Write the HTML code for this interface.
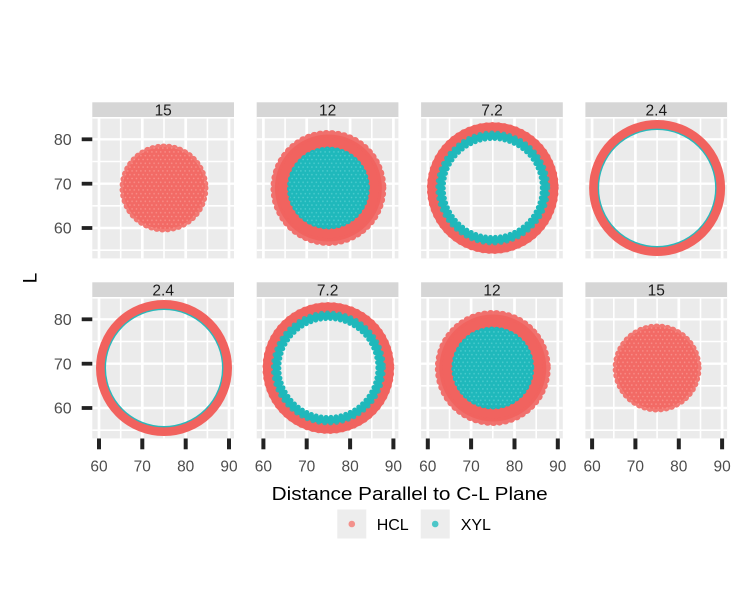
<!DOCTYPE html>
<html><head><meta charset="utf-8"><style>
html,body{margin:0;padding:0;background:#fff;}
svg{display:block;font-family:"Liberation Sans",Arial,sans-serif;}
</style></head><body>
<svg width="750" height="600" viewBox="0 0 750 600" xmlns="http://www.w3.org/2000/svg">
<defs>
<pattern id="texR" width="4.4" height="7.6" patternUnits="userSpaceOnUse">
<circle cx="1.1" cy="1.9" r="0.8" fill="#ffc0b8" opacity="0.45"/>
<circle cx="3.3" cy="5.7" r="0.8" fill="#ffc0b8" opacity="0.45"/>
</pattern>
<pattern id="texT" width="4.4" height="7.6" patternUnits="userSpaceOnUse">
<circle cx="1.1" cy="1.9" r="0.8" fill="#8fe6e6" opacity="0.45"/>
<circle cx="3.3" cy="5.7" r="0.8" fill="#8fe6e6" opacity="0.45"/>
</pattern>
<g id="grid">
<rect x="0" y="0" width="141.7" height="140.6" fill="#EBEBEB"/>
<g stroke="#fff" stroke-width="1.6">
<line x1="28.4" y1="0" x2="28.4" y2="140.6"/><line x1="71.7" y1="0" x2="71.7" y2="140.6"/><line x1="115.1" y1="0" x2="115.1" y2="140.6"/>
<line x1="0" y1="0" x2="141.7" y2="0"/><line x1="0" y1="43.7" x2="141.7" y2="43.7"/><line x1="0" y1="88" x2="141.7" y2="88"/><line x1="0" y1="132.4" x2="141.7" y2="132.4"/>
</g>
<g stroke="#fff" stroke-width="2.7">
<line x1="6.7" y1="0" x2="6.7" y2="140.6"/><line x1="50" y1="0" x2="50" y2="140.6"/><line x1="93.4" y1="0" x2="93.4" y2="140.6"/><line x1="136.7" y1="0" x2="136.7" y2="140.6"/>
</g>
<g stroke="#fff" stroke-width="2.4">
<line x1="0" y1="21.5" x2="141.7" y2="21.5"/><line x1="0" y1="65.9" x2="141.7" y2="65.9"/><line x1="0" y1="110.2" x2="141.7" y2="110.2"/>
</g>
</g>
<g id="p15">
<circle r="41" fill="#F26A65"/>
<circle r="41" fill="none" stroke="#F26A65" stroke-width="7" stroke-dasharray="0 5.5" stroke-linecap="round" opacity="0.9"/>
<circle r="42" fill="url(#texR)"/>
</g>
<g id="p12">
<circle r="53.5" fill="#F1635F"/>
<circle r="54" fill="none" stroke="#F1635F" stroke-width="8" stroke-dasharray="0 6" stroke-linecap="round" opacity="0.9"/>
<circle r="38.5" fill="#1FB8BB"/>
<circle r="38.5" fill="none" stroke="#1FB8BB" stroke-width="6" stroke-dasharray="0 5" stroke-linecap="round"/>
<circle r="39.5" fill="url(#texT)"/>
</g>
<g id="p72">
<circle r="60" fill="none" stroke="#F1635F" stroke-width="11"/>
<circle r="62.5" fill="none" stroke="#F1635F" stroke-width="7" stroke-dasharray="0 6" stroke-linecap="round" opacity="0.9"/>
<circle r="52.5" fill="none" stroke="#1FB8BB" stroke-width="6"/>
<circle r="49.5" fill="none" stroke="#1FB8BB" stroke-width="5" stroke-dasharray="0 5" stroke-linecap="round"/>
<circle r="55" fill="none" stroke="#1FB8BB" stroke-width="5" stroke-dasharray="0 6" stroke-linecap="round" opacity="0.85"/>
</g>
<g id="p24">
<circle r="63.5" fill="none" stroke="#F1625E" stroke-width="9"/>
<circle r="58.7" fill="none" stroke="#2BB8BA" stroke-width="1.4"/>
</g>
</defs>

<!-- Row 1 -->
<g>
<rect x="92.3" y="102.3" width="141.7" height="15.5" fill="#D6D6D6"/>
<rect x="256.7" y="102.3" width="141.7" height="15.5" fill="#D6D6D6"/>
<rect x="421.1" y="102.3" width="141.7" height="15.5" fill="#D6D6D6"/>
<rect x="585.4" y="102.3" width="141.7" height="15.5" fill="#D6D6D6"/>
<g font-size="15.5" fill="#1A1A1A" text-anchor="middle">
<text x="163.2" y="115.7">15</text>
<text x="327.6" y="115.7">12</text>
<text x="492" y="115.7">7.2</text>
<text x="656.3" y="115.7">2.4</text>
</g>
<use href="#grid" x="92.3" y="117.8"/>
<use href="#grid" x="256.7" y="117.8"/>
<use href="#grid" x="421.1" y="117.8"/>
<use href="#grid" x="585.4" y="117.8"/>
<use href="#p15" x="164" y="188"/>
<use href="#p12" x="328.4" y="188"/>
<use href="#p72" x="492.8" y="188"/>
<use href="#p24" x="657.1" y="188"/>
</g>

<!-- Row 2 -->
<g>
<rect x="92.3" y="282.3" width="141.7" height="15.5" fill="#D6D6D6"/>
<rect x="256.7" y="282.3" width="141.7" height="15.5" fill="#D6D6D6"/>
<rect x="421.1" y="282.3" width="141.7" height="15.5" fill="#D6D6D6"/>
<rect x="585.4" y="282.3" width="141.7" height="15.5" fill="#D6D6D6"/>
<g font-size="15.5" fill="#1A1A1A" text-anchor="middle">
<text x="163.2" y="295.7">2.4</text>
<text x="327.6" y="295.7">7.2</text>
<text x="492" y="295.7">12</text>
<text x="656.3" y="295.7">15</text>
</g>
<use href="#grid" x="92.3" y="297.8"/>
<use href="#grid" x="256.7" y="297.8"/>
<use href="#grid" x="421.1" y="297.8"/>
<use href="#grid" x="585.4" y="297.8"/>
<use href="#p24" x="164" y="368"/>
<use href="#p72" x="328.4" y="368"/>
<use href="#p12" x="492.8" y="368"/>
<use href="#p15" x="657.1" y="368"/>
</g>

<!-- Y ticks -->
<g fill="#222">
<rect x="81.7" y="137.4" width="10.6" height="3.8"/>
<rect x="81.7" y="181.8" width="10.6" height="3.8"/>
<rect x="81.7" y="226.1" width="10.6" height="3.8"/>
<rect x="81.7" y="317.4" width="10.6" height="3.8"/>
<rect x="81.7" y="361.8" width="10.6" height="3.8"/>
<rect x="81.7" y="406.1" width="10.6" height="3.8"/>
</g>
<g font-size="16" fill="#4D4D4D" text-anchor="end">
<text x="71.7" y="145">80</text>
<text x="71.7" y="189.4">70</text>
<text x="71.7" y="233.7">60</text>
<text x="71.7" y="325">80</text>
<text x="71.7" y="369.4">70</text>
<text x="71.7" y="413.7">60</text>
</g>

<!-- X ticks -->
<g fill="#222">
<rect x="97" y="438.5" width="4" height="10.8"/><rect x="140.3" y="438.5" width="4" height="10.8"/><rect x="183.7" y="438.5" width="4" height="10.8"/><rect x="227" y="438.5" width="4" height="10.8"/>
<rect x="261.4" y="438.5" width="4" height="10.8"/><rect x="304.7" y="438.5" width="4" height="10.8"/><rect x="348.1" y="438.5" width="4" height="10.8"/><rect x="391.4" y="438.5" width="4" height="10.8"/>
<rect x="425.8" y="438.5" width="4" height="10.8"/><rect x="469.1" y="438.5" width="4" height="10.8"/><rect x="512.5" y="438.5" width="4" height="10.8"/><rect x="555.8" y="438.5" width="4" height="10.8"/>
<rect x="590.1" y="438.5" width="4" height="10.8"/><rect x="633.4" y="438.5" width="4" height="10.8"/><rect x="676.8" y="438.5" width="4" height="10.8"/><rect x="720.1" y="438.5" width="4" height="10.8"/>
</g>
<g font-size="15.5" fill="#4D4D4D" text-anchor="middle">
<text x="99" y="471.7">60</text><text x="142.3" y="471.7">70</text><text x="185.7" y="471.7">80</text><text x="229" y="471.7">90</text>
<text x="263.4" y="471.7">60</text><text x="306.7" y="471.7">70</text><text x="350.1" y="471.7">80</text><text x="393.4" y="471.7">90</text>
<text x="427.8" y="471.7">60</text><text x="471.1" y="471.7">70</text><text x="514.5" y="471.7">80</text><text x="557.8" y="471.7">90</text>
<text x="592.1" y="471.7">60</text><text x="635.4" y="471.7">70</text><text x="678.8" y="471.7">80</text><text x="722.1" y="471.7">90</text>
</g>

<!-- Axis titles -->
<text x="271.7" y="500" font-size="18.5" fill="#000" textLength="276" lengthAdjust="spacingAndGlyphs">Distance Parallel to C-L Plane</text>
<text transform="translate(36.5,278) rotate(-90)" font-size="19" fill="#000" text-anchor="middle">L</text>

<!-- Legend -->
<rect x="337.3" y="509.5" width="29" height="29" fill="#EDEDED"/>
<circle cx="351.8" cy="524" r="3.3" fill="#F3918C"/>
<text x="376.7" y="530" font-size="16" fill="#000">HCL</text>
<rect x="420.7" y="509.5" width="29" height="29" fill="#EDEDED"/>
<circle cx="435.2" cy="524" r="3.3" fill="#4CC6C8"/>
<text x="460.7" y="530" font-size="16" fill="#000">XYL</text>
</svg>
</body></html>
